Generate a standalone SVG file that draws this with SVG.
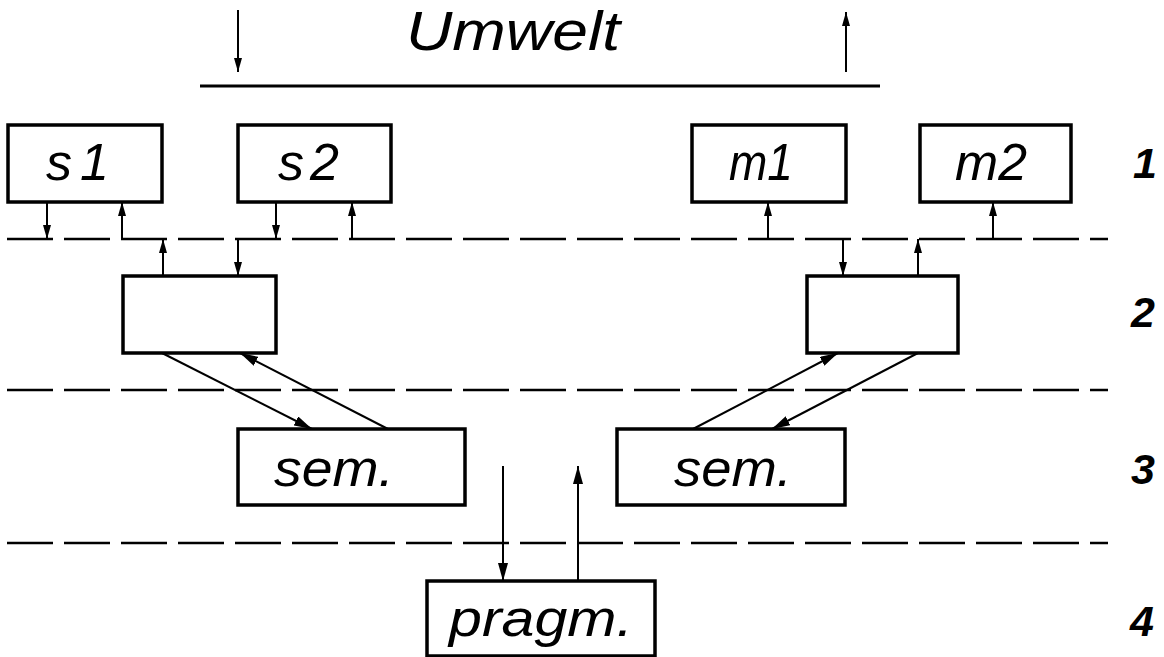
<svg xmlns="http://www.w3.org/2000/svg" width="1164" height="657" viewBox="0 0 1164 657">
  <defs>
    <style>
      .box { fill: #fff; stroke: #000; stroke-width: 3.5; }
      .lbl { font-family: "Liberation Sans", Arial, sans-serif; font-style: italic; font-size: 52px; fill: #000; }
      .env { font-size: 56px; }
      .lvl { font-family: "Liberation Sans", Arial, sans-serif; font-style: italic; font-weight: bold; font-size: 43px; fill: #000; }
      .sep { stroke: #000; stroke-width: 2.5; stroke-dasharray: 46 11; fill: none; }
      .ground { stroke: #000; stroke-width: 3; fill: none; }
      .arr { stroke: #000; stroke-width: 2; fill: none; marker-end: url(#head); }
      .arrd { stroke: #000; stroke-width: 2; fill: none; marker-end: url(#headL); }
    </style>
    <marker id="head" viewBox="0 0 14 8" refX="14" refY="4" markerWidth="14" markerHeight="8" markerUnits="userSpaceOnUse" orient="auto">
      <path d="M0,0 L14,4 L0,8 Z" fill="#000"/>
    </marker>
    <marker id="headL" viewBox="0 0 18 10" refX="18" refY="5" markerWidth="18" markerHeight="10" markerUnits="userSpaceOnUse" orient="auto">
      <path d="M0,0 L18,5 L0,10 Z" fill="#000"/>
    </marker>
  </defs>

  <!-- environment boundary -->
  <g id="umwelt">
    <line class="ground" x1="200" y1="86" x2="880" y2="86"/>
    <text class="lbl env" x="406" y="50" textLength="214" lengthAdjust="spacingAndGlyphs">Umwelt</text>
  </g>

  <!-- level separators -->
  <g id="separators">
    <line class="sep" x1="7" y1="239" x2="1108" y2="239"/>
    <line class="sep" x1="7" y1="390" x2="1108" y2="390"/>
    <line class="sep" x1="7" y1="543" x2="1108" y2="543"/>
  </g>

  <!-- level 1: sensors and motors -->
  <g id="s1">
    <rect class="box" x="8" y="125" width="154" height="77"/>
    <text class="lbl" x="46" y="180"><tspan>s</tspan><tspan dx="8">1</tspan></text>
  </g>
  <g id="s2">
    <rect class="box" x="238" y="125" width="153" height="77"/>
    <text class="lbl" x="278" y="180"><tspan>s</tspan><tspan dx="6">2</tspan></text>
  </g>
  <g id="m1">
    <rect class="box" x="692" y="125" width="154" height="77"/>
    <text class="lbl" x="729" y="180" textLength="64" lengthAdjust="spacingAndGlyphs">m1</text>
  </g>
  <g id="m2">
    <rect class="box" x="920" y="125" width="151" height="77"/>
    <text class="lbl" x="955" y="180" textLength="72" lengthAdjust="spacingAndGlyphs">m2</text>
  </g>

  <!-- level 2 -->
  <g id="box2-left">
    <rect class="box" x="123" y="276" width="153" height="77"/>
  </g>
  <g id="box2-right">
    <rect class="box" x="807" y="276" width="151" height="77"/>
  </g>

  <!-- level 3: semantics -->
  <g id="sem-left">
    <rect class="box" x="238" y="429" width="227" height="76"/>
    <text class="lbl" x="274" y="486" textLength="120" lengthAdjust="spacingAndGlyphs">sem.</text>
  </g>
  <g id="sem-right">
    <rect class="box" x="617" y="429" width="228" height="76"/>
    <text class="lbl" x="674" y="486" textLength="118" lengthAdjust="spacingAndGlyphs">sem.</text>
  </g>

  <!-- level 4: pragmatics -->
  <g id="pragm">
    <rect class="box" x="427" y="581" width="228" height="75"/>
    <text class="lbl" x="449" y="636" textLength="184" lengthAdjust="spacingAndGlyphs">pragm.</text>
  </g>

  <!-- level numbers -->
  <g id="levels">
    <text class="lvl" x="1133" y="178">1</text>
    <text class="lvl" x="1131" y="327">2</text>
    <text class="lvl" x="1131" y="484">3</text>
    <text class="lvl" x="1130" y="636">4</text>
  </g>

  <!-- connectors -->
  <g id="connectors">
    <line class="arr" x1="238" y1="10" x2="238" y2="72"/>
    <line class="arr" x1="846" y1="72" x2="846" y2="12"/>

    <line class="arr" x1="47" y1="202" x2="47" y2="239"/>
    <line class="arr" x1="122" y1="239" x2="122" y2="202"/>
    <line class="arr" x1="276" y1="202" x2="276" y2="239"/>
    <line class="arr" x1="352" y1="239" x2="352" y2="202"/>
    <line class="arr" x1="768" y1="239" x2="768" y2="202"/>
    <line class="arr" x1="993" y1="239" x2="993" y2="202"/>

    <line class="arr" x1="163" y1="276" x2="163" y2="239"/>
    <line class="arr" x1="238" y1="239" x2="238" y2="276"/>
    <line class="arr" x1="843" y1="239" x2="843" y2="276"/>
    <line class="arr" x1="918" y1="276" x2="918" y2="239"/>

    <line class="arrd" x1="162" y1="353" x2="312" y2="429"/>
    <line class="arrd" x1="388" y1="429" x2="240" y2="353"/>
    <line class="arrd" x1="693" y1="429" x2="838" y2="353"/>
    <line class="arrd" x1="918" y1="353" x2="772" y2="429"/>

    <line class="arrd" x1="503" y1="466" x2="503" y2="581"/>
    <line class="arrd" x1="578" y1="581" x2="578" y2="466"/>
  </g>
</svg>
